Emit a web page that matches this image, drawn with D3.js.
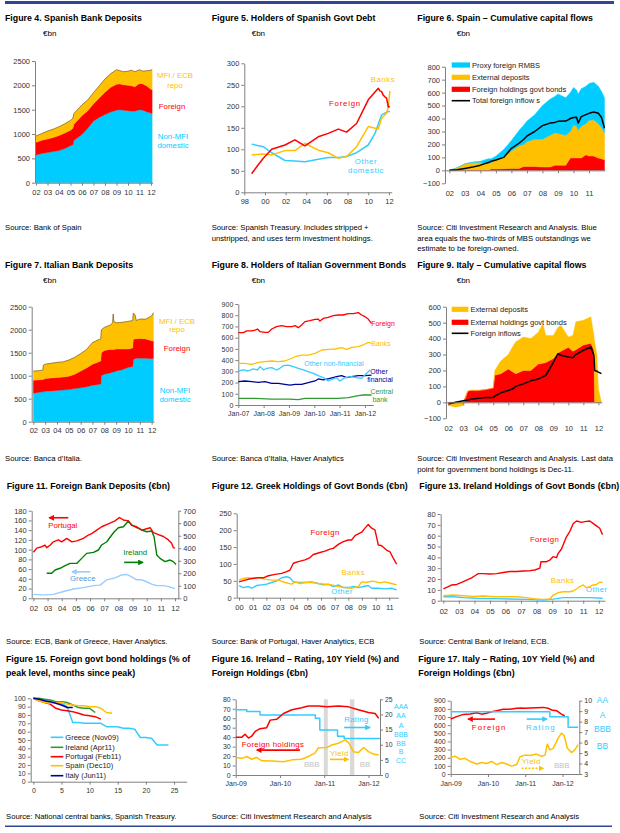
<!DOCTYPE html>
<html>
<head>
<meta charset="utf-8">
<title>Euro periphery: deposits, bond holders and capital flows</title>
<script src="https://cdn.jsdelivr.net/npm/d3@7"></script>
<style>
  body { margin: 0; background: #fff; }
  svg text { font-family: Arial, "Liberation Sans", Helvetica, sans-serif; }
</style>
</head>
<body>
<svg id="chart" width="620" height="833"></svg>
<script>

// ---------- tick labels
var yr0212 = ["02", "03", "04", "05", "06", "07", "08", "09", "10", "11", "12"];
var yr0211 = ["02", "03", "04", "05", "06", "07", "08", "09", "10", "11"];
var yr9812 = ["98", "00", "02", "04", "06", "08", "10", "12"];
var yr0011 = ["00", "01", "02", "03", "04", "05", "06", "07", "08", "09", "10", "11"];
var jan0712 = ["Jan-07", "Jan-08", "Jan-09", "Jan-10", "Jan-11", "Jan-12"];
var jan0912 = ["Jan-09", "Jan-10", "Jan-11", "Jan-12"];
var monthTicks = ["0", "5", "10", "15", "20", "25"];

// ---------- Figure 4. Spanish bank deposits (EUR bn, stacked)
var esDepYears    = [2002, 2002.5, 2003, 2003.5, 2004, 2004.5, 2005, 2005.2, 2005.3, 2006, 2006.5, 2007, 2007.5, 2008, 2008.5, 2009, 2009.3, 2009.6, 2010, 2010.3, 2010.6, 2011, 2011.3, 2011.6, 2012, 2012.1];
var esDepDomestic = [570, 600, 620, 640, 660, 700, 760, 780, 870, 990, 1120, 1270, 1340, 1400, 1450, 1490, 1500, 1490, 1480, 1470, 1470, 1500, 1490, 1460, 1430, 1420];
var esDepForeign  = [260, 270, 280, 290, 310, 320, 320, 340, 330, 390, 360, 350, 400, 460, 510, 530, 530, 520, 520, 520, 500, 540, 540, 530, 490, 490];
var esDepRepo     = [130, 140, 160, 170, 180, 190, 200, 200, 220, 220, 220, 230, 250, 270, 280, 300, 270, 270, 290, 320, 310, 280, 260, 310, 390, 420];

// ---------- Figure 5. Holders of Spanish govt debt
var esForeignYrs = [1998.71, 1999.35, 1999.84, 2000.65, 2001.94, 2002.9, 2003.87, 2005.16, 2006.13, 2007.1, 2007.9, 2008.87, 2010.0, 2010.97, 2011.13, 2011.29, 2011.45, 2011.61, 2011.77, 2011.94, 2012.1];
var esForeign    = [43, 64, 79, 100, 110, 122, 108, 129, 137, 147, 140, 160, 215, 242, 236, 234, 226, 222, 219, 199, 199];
var esBanksYrs   = [1998.71, 1999.84, 2000.65, 2001.94, 2002.9, 2003.87, 2005.16, 2006.13, 2007.1, 2007.9, 2008.87, 2010.0, 2010.97, 2011.29, 2011.61, 2011.77, 2011.94, 2012.1];
var esBanks      = [87, 89, 87, 97, 97, 114, 98, 92, 79, 83, 106, 153, 147, 172, 180, 184, 199, 236];
var esOtherYrs   = [1998.71, 1999.84, 2000.65, 2001.94, 2002.9, 2003.87, 2005.16, 2006.13, 2007.1, 2007.9, 2008.87, 2010.0, 2010.65, 2011.29, 2011.61, 2011.94, 2012.1];
var esOther      = [112, 106, 92, 74, 73, 71, 77, 81, 81, 83, 92, 110, 137, 180, 184, 188, 188];

// ---------- Figure 6. Spain cumulative capital flows
var esFlowYears    = [2002, 2002.5, 2003, 2003.5, 2004, 2004.5, 2004.7, 2005, 2005.5, 2006, 2006.5, 2006.8, 2007, 2007.5, 2008, 2008.5, 2008.8, 2009, 2009.5, 2009.8, 2010, 2010.2, 2010.3, 2010.5, 2010.8, 2011, 2011.3, 2011.6, 2011.8, 2012];
var esFlowBonds    = [0, 0, 0, 0, 0, 0, 10, 10, 12, 15, 15, 30, 30, 30, 25, 25, 40, 40, 40, 95, 95, 95, 95, 95, 120, 110, 110, 95, 90, 80];
var esFlowDeposits = [0, 20, 50, 60, 60, 50, 50, 70, 88, 135, 175, 170, 190, 210, 215, 245, 250, 245, 230, 205, 255, 245, 215, 245, 240, 275, 280, 265, 240, 210];
var esFlowRmbs     = [0, 0, 0, 5, 10, 40, 30, 30, 60, 80, 120, 150, 160, 190, 260, 280, 280, 305, 290, 300, 290, 280, 280, 290, 290, 285, 290, 290, 280, 270];
var esFlowTotal    = [0, 5, 15, 25, 40, 60, 70, 80, 100, 170, 210, 240, 265, 300, 345, 365, 370, 378, 380, 400, 408, 410, 365, 415, 430, 440, 450, 440, 410, 325];

// ---------- Figure 7. Italian bank deposits (stacked)
var itDepYears    = [2002, 2002.5, 2002.8, 2002.85, 2003, 2003.5, 2004, 2004.5, 2005, 2005.5, 2006, 2006.5, 2007, 2007.5, 2007.7, 2007.75, 2008, 2008.5, 2008.7, 2008.75, 2008.8, 2009, 2009.5, 2010, 2010.4, 2010.45, 2010.6, 2010.7, 2011, 2011.5, 2012, 2012.15];
var itDepDomestic = [620, 640, 650, 650, 660, 670, 680, 690, 700, 720, 740, 760, 790, 810, 820, 1000, 1030, 1060, 1080, 1080, 1080, 1100, 1130, 1180, 1200, 1350, 1370, 1380, 1380, 1380, 1370, 1380];
var itDepForeign  = [280, 270, 270, 270, 280, 280, 280, 280, 290, 310, 360, 410, 460, 490, 500, 500, 520, 510, 490, 490, 490, 480, 450, 400, 400, 440, 430, 420, 430, 420, 390, 370];
var itDepRepo     = [200, 200, 200, 310, 310, 320, 330, 330, 350, 370, 380, 400, 470, 480, 480, 500, 500, 530, 580, 770, 610, 570, 580, 600, 600, 570, 520, 400, 420, 430, 540, 620];

// ---------- Figure 8. Holders of Italian government bonds
var itForeignYrs = [2007.0, 2007.2, 2007.33, 2007.53, 2007.66, 2007.76, 2007.86, 2008.05, 2008.18, 2008.32, 2008.51, 2008.71, 2008.91, 2009.11, 2009.24, 2009.37, 2009.5, 2009.63, 2009.83, 2010.03, 2010.16, 2010.22, 2010.36, 2010.55, 2010.75, 2010.95, 2011.14, 2011.34, 2011.54, 2011.74, 2011.87, 2012.0, 2012.13, 2012.26];
var itForeign    = [645, 645, 660, 660, 668, 677, 653, 647, 647, 677, 698, 707, 698, 698, 707, 689, 713, 743, 751, 763, 766, 748, 772, 781, 796, 802, 802, 814, 814, 823, 802, 787, 766, 728];
var itBanksYrs   = [2007.0, 2007.26, 2007.53, 2007.79, 2008.05, 2008.32, 2008.58, 2008.84, 2009.04, 2009.24, 2009.5, 2009.76, 2010.03, 2010.29, 2010.55, 2010.82, 2011.08, 2011.28, 2011.47, 2011.74, 2011.93, 2012.13, 2012.26];
var itBanks      = [371, 371, 362, 380, 386, 392, 386, 392, 410, 430, 445, 445, 460, 490, 496, 499, 511, 496, 514, 520, 535, 558, 550];
var itNonFinYrs  = [2007.0, 2007.2, 2007.39, 2007.59, 2007.76, 2007.86, 2008.0, 2008.12, 2008.32, 2008.51, 2008.64, 2008.78, 2008.97, 2009.17, 2009.37, 2009.57, 2009.76, 2009.96, 2010.16, 2010.36, 2010.55, 2010.75, 2010.88, 2011.01, 2011.21, 2011.47, 2011.66, 2011.86, 2012.0, 2012.2];
var itNonFin     = [303, 312, 303, 321, 312, 342, 312, 327, 333, 312, 327, 350, 356, 342, 327, 312, 297, 282, 261, 244, 214, 232, 244, 214, 244, 252, 244, 238, 267, 312];
var itOthFinYrs  = [2007.0, 2007.26, 2007.53, 2007.79, 2008.05, 2008.32, 2008.58, 2008.84, 2009.04, 2009.24, 2009.5, 2009.76, 2010.03, 2010.16, 2010.36, 2010.62, 2010.88, 2011.08, 2011.28, 2011.47, 2011.74, 2012.0, 2012.26];
var itOthFin     = [208, 214, 208, 202, 208, 193, 193, 184, 178, 184, 184, 199, 214, 232, 223, 238, 252, 261, 244, 252, 261, 261, 267];
var itCbYrs      = [2007.0, 2007.66, 2008.32, 2009.0, 2009.37, 2009.63, 2010.29, 2010.95, 2011.34, 2011.54, 2011.74, 2011.93, 2012.26];
var itCb         = [59, 59, 53, 53, 48, 59, 59, 59, 65, 74, 83, 89, 89];

// ---------- Figure 9. Italy cumulative capital flows
var itFlowYears    = [2002, 2002.5, 2003, 2003.3, 2003.5, 2004, 2004.5, 2005, 2005.1, 2005.5, 2006, 2006.3, 2006.5, 2007, 2007.5, 2008, 2008.3, 2008.5, 2009, 2009.3, 2009.5, 2010, 2010.3, 2010.5, 2011, 2011.5, 2011.7, 2011.75, 2011.9, 2012, 2012.2];
var itFlowBonds    = [-5, 0, 0, 70, 75, 75, 80, 90, 170, 180, 210, 190, 180, 200, 200, 240, 245, 250, 275, 310, 320, 345, 320, 330, 360, 370, 330, 0, 0, 0, 0];
var itFlowDeposits = [-15, -30, -20, 0, 0, 0, 0, 0, 30, 80, 90, 160, 200, 210, 200, 200, 249, 170, 145, 160, 164, 65, 100, 175, 155, 167, 90, 380, 300, 84, 0];
var itFlowTotal    = [-10, 0, 10, 15, 20, 25, 30, 30, 40, 60, 74, 85, 100, 116, 135, 147, 160, 170, 250, 305, 295, 284, 280, 300, 326, 347, 295, 200, 195, 190, 180];

// ---------- Figure 11. Foreign bank deposits
var ptDepYrs = [2002.0, 2002.24, 2002.59, 2002.82, 2002.94, 2003.18, 2003.41, 2003.76, 2004.0, 2004.35, 2004.71, 2005.06, 2005.53, 2005.88, 2006.12, 2006.47, 2006.82, 2007.29, 2007.76, 2008.07, 2008.35, 2008.71, 2008.94, 2009.29, 2009.65, 2010.0, 2010.24, 2010.47, 2010.82, 2011.18, 2011.53, 2011.76, 2011.88, 2012.0];
var ptDep    = [94.5, 103, 106, 109, 104, 109, 116, 120, 116, 123, 116, 118, 123, 130, 133, 140, 147, 153, 159, 166, 161, 159, 150, 147, 140, 143, 145, 135, 131, 127, 120, 113, 104, 103];
var ieDepYrs = [2002.94, 2003.29, 2003.53, 2003.88, 2004.24, 2004.59, 2005.06, 2005.41, 2005.76, 2006.24, 2006.59, 2006.82, 2007.18, 2007.53, 2007.76, 2008.0, 2008.35, 2008.71, 2008.94, 2009.29, 2009.65, 2010.0, 2010.35, 2010.52, 2010.71, 2010.94, 2011.29, 2011.65, 2011.88, 2012.07];
var ieDep    = [200, 200, 226, 240, 261, 279, 279, 319, 359, 367, 386, 426, 452, 506, 538, 564, 572, 617, 586, 564, 546, 532, 538, 492, 346, 319, 293, 306, 293, 271];
var grDepYrs = [2002.0, 2002.71, 2003.41, 2004.12, 2004.82, 2005.53, 2006.24, 2006.71, 2007.18, 2007.76, 2008.24, 2008.59, 2008.94, 2009.29, 2009.65, 2010.0, 2010.35, 2010.71, 2011.18, 2011.53, 2012.0];
var grDep    = [8, 7, 8, 14, 19, 22, 26, 27, 38, 42, 48, 49, 44, 38, 38, 34, 29, 26, 26, 24, 20];

// ---------- Figure 12. Greek holdings of govt bonds
var grForeignYrs = [2000.0, 2000.44, 2000.93, 2001.41, 2001.78, 2002.15, 2002.63, 2003.12, 2003.49, 2003.73, 2003.98, 2004.34, 2004.83, 2005.2, 2005.44, 2005.93, 2006.29, 2006.66, 2006.9, 2007.27, 2007.63, 2008.0, 2008.24, 2008.49, 2008.98, 2009.22, 2009.46, 2009.71, 2009.95, 2010.2, 2010.44, 2010.8, 2011.05, 2011.29, 2011.54];
var grForeign    = [47, 52, 57, 59, 59, 65, 69, 72, 77, 82, 102, 107, 112, 119, 128, 134, 138, 144, 146, 158, 166, 171, 171, 184, 194, 206, 217, 206, 201, 156, 154, 141, 136, 117, 99];
var grBanksYrs   = [2000.0, 2000.32, 2000.68, 2001.05, 2001.41, 2001.9, 2002.39, 2002.88, 2003.37, 2003.85, 2004.1, 2004.46, 2004.83, 2005.32, 2005.8, 2006.29, 2006.78, 2007.27, 2007.76, 2008.24, 2008.73, 2008.98, 2009.34, 2009.71, 2010.07, 2010.32, 2010.68, 2011.17, 2011.54];
var grBanks      = [52, 57, 59, 57, 60, 55, 52, 52, 45, 40, 47, 42, 45, 45, 42, 40, 38, 33, 30, 28, 33, 47, 45, 49, 47, 44, 47, 42, 38];
var grOtherYrs   = [2000.0, 2000.32, 2000.68, 2000.93, 2001.29, 2001.66, 2002.02, 2002.39, 2002.76, 2003.12, 2003.49, 2003.73, 2003.98, 2004.34, 2004.83, 2005.32, 2005.8, 2006.17, 2006.54, 2006.9, 2007.27, 2007.63, 2008.0, 2008.37, 2008.73, 2009.1, 2009.46, 2009.71, 2010.2, 2010.68, 2011.17, 2011.54];
var grOther      = [36, 30, 33, 28, 36, 38, 40, 45, 49, 59, 62, 59, 47, 45, 45, 47, 42, 38, 40, 33, 38, 30, 30, 33, 30, 33, 36, 28, 28, 26, 28, 23];

// ---------- Figure 13. Ireland holdings of govt bonds
var ieForeignYrs = [2002.0, 2002.32, 2002.54, 2002.86, 2003.18, 2003.5, 2003.82, 2004.03, 2004.25, 2004.57, 2005.0, 2005.43, 2005.85, 2006.28, 2006.71, 2007.14, 2007.57, 2007.89, 2008.21, 2008.28, 2008.64, 2008.85, 2009.06, 2009.28, 2009.39, 2009.6, 2009.75, 2009.92, 2010.14, 2010.35, 2010.57, 2010.89, 2011.1, 2011.42, 2011.63, 2011.85, 2012.06, 2012.24];
var ieForeign    = [11, 13, 14.5, 15, 17, 19, 21, 23, 25, 25, 24.6, 25, 26, 27, 27, 27.4, 27.7, 28.3, 30, 36, 36, 37.5, 40.6, 39.7, 43.7, 47.7, 53, 59, 64, 71, 73.5, 72.3, 73, 73.5, 71.4, 69, 66.8, 61];
var ieBanksYrs   = [2002.0, 2002.64, 2003.28, 2003.93, 2004.57, 2005.21, 2005.85, 2006.71, 2007.35, 2007.99, 2008.42, 2008.85, 2009.07, 2009.39, 2009.71, 2010.14, 2010.35, 2010.57, 2010.78, 2011.0, 2011.21, 2011.42, 2011.64, 2011.85, 2012.06, 2012.24];
var ieBanks      = [4.6, 5.2, 4.6, 4, 4.3, 3.7, 3.7, 3.7, 2.8, 1.5, 1.2, 1.5, 5.2, 7.4, 8.3, 8.3, 9, 10.8, 13, 14.5, 12, 13, 14.5, 15, 17, 17];
var ieOtherYrs   = [2002.0, 2002.64, 2003.28, 2004.14, 2005.21, 2006.28, 2007.35, 2008.42, 2009.07, 2009.71, 2010.57, 2011.42, 2012.24];
var ieOther      = [3.7, 3.7, 2.8, 2.2, 1.9, 1.5, 1.2, 0.6, 1.5, 2.8, 2.8, 2.8, 2.2];

// ---------- Figure 15. Foreign holdings, % of peak, by months since peak
var peakGreece   = [100, 99, 97, 95, 95, 94, 90, 71, 71, 70, 70, 70, 70, 66, 66, 66, 64, 64, 63, 53, 53, 52, 44, 44, 44];
var peakIreland  = [100, 100, 99, 98, 96, 96, 95, 92, 89, 88, 88, 83];
var peakPortugal = [100, 97, 95, 93, 88, 86, 85, 84, 82, 80, 79, 78, 75];
var peakSpain    = [100, 97, 95, 94, 95, 95, 93, 92, 91, 91, 90, 90, 88, 83, 82];
var peakItaly    = [100, 99, 97, 96, 94, 92, 89, 89];
var peakNames    = ["Greece (Nov09)", "Ireland (Apr11)", "Portugal (Feb11)", "Spain (Dec10)", "Italy (Jun11)"];

// ---------- Figure 16. Ireland rating, 10y yield, foreign holdings
var ieFhYrs     = [2009.0, 2009.14, 2009.21, 2009.29, 2009.36, 2009.44, 2009.55, 2009.70, 2009.78, 2009.93, 2010.08, 2010.27, 2010.49, 2010.64, 2010.87, 2011.06, 2011.32, 2011.55, 2011.77, 2012.0, 2012.15, 2012.23];
var ieFh        = [40, 40, 43, 39, 41, 46, 49, 50, 58, 59, 65, 69, 71, 73, 73, 72, 73, 72, 69, 66, 65, 60];
var ieYieldYrs  = [2009.0, 2009.14, 2009.25, 2009.36, 2009.47, 2009.59, 2009.82, 2010.08, 2010.27, 2010.49, 2010.64, 2010.79, 2010.87, 2011.06, 2011.17, 2011.32, 2011.47, 2011.55, 2011.66, 2011.77, 2011.89, 2012.0, 2012.11, 2012.23];
var ieYield     = [5.8, 5.5, 6.1, 5.2, 5.8, 4.7, 4.6, 4.4, 5.0, 5.2, 6.1, 7.2, 9.0, 9.1, 9.9, 10.5, 11.6, 10.7, 7.7, 7.4, 9.1, 7.7, 6.9, 6.6];
var ieRatingYrs = [2009.0, 2009.25, 2009.55, 2010.8, 2010.9, 2011.3, 2011.45, 2012.26];
var ieRating    = [69, 67, 63.5, 60, 47.5, 41, 38.5, 38.5];
var ieRatingNames = ["AAA", "AA", "A", "BBB", "BB", "B", "CC"];
var ieDowngrades  = [[2010.99, 2011.08], [2011.58, 2011.68]];

// ---------- Figure 17. Italy rating, 10y yield, foreign holdings
var itFhYrs     = [2009.0, 2009.16, 2009.34, 2009.52, 2009.70, 2009.83, 2009.96, 2010.10, 2010.23, 2010.41, 2010.59, 2010.77, 2010.90, 2010.99, 2011.13, 2011.30, 2011.48, 2011.62, 2011.71, 2011.84, 2011.97, 2012.06];
var itFh        = [675, 704, 732, 736, 753, 735, 745, 765, 777, 794, 794, 806, 810, 806, 810, 814, 818, 806, 786, 777, 736, 712];
var itYieldYrs  = [2009.0, 2009.12, 2009.25, 2009.38, 2009.52, 2009.70, 2009.83, 2009.96, 2010.10, 2010.23, 2010.37, 2010.50, 2010.63, 2010.77, 2010.86, 2010.99, 2011.17, 2011.30, 2011.44, 2011.53, 2011.59, 2011.66, 2011.75, 2011.88, 2011.97, 2012.04, 2012.13, 2012.24, 2012.33, 2012.42];
var itYield     = [4.6, 4.7, 4.4, 4.5, 4.2, 3.95, 4.1, 4.0, 4.2, 3.9, 4.1, 3.95, 3.75, 3.9, 4.65, 4.8, 4.8, 4.9, 4.7, 4.8, 5.85, 5.3, 5.45, 6.4, 6.9, 6.7, 5.45, 5.05, 5.3, 5.8];
var itRatingYrs = [2009.0, 2011.66, 2012.15, 2012.42];
var itRating    = [765, 704, 573, 573];
var itRatingNames = ["AA", "A", "BBB", "BB"];

// ---------- colours
var YEL = "#FFC000", RED = "#FF0000", CYAN = "#00CCFF", LBLUE = "#33CCFF", NAVY = "#000099",
    GREEN = "#008000", CBGREEN = "#339933", PALE = "#99CCFF", SHADE = "#D9D9D9", GREYTXT = "#BFBFBF";

var svg = d3.select("#chart");
var defs = svg.append("defs");

svg.append("rect").attr("x", 5).attr("y", 1).attr("width", 609).attr("height", 3).attr("fill", "#2F4696");
svg.append("rect").attr("x", 5).attr("y", 825.5).attr("width", 607).attr("height", 1.5).attr("fill", "#2F4696");

function text(x, y, s, o) {
  o = o || {};
  return svg.append("text").attr("x", x).attr("y", y).text(s)
    .attr("text-anchor", o.anchor || "start")
    .style("font-size", (o.size || 7.8) + "px")
    .style("font-weight", o.bold ? "bold" : "normal")
    .style("letter-spacing", o.ls ? o.ls + "px" : null)
    .style("fill", o.color || "#000");
}
function title(x, y, s) { return text(x, y, s, {size: 8.8, bold: true}); }
function source(x, y, s) { return text(x, y, s, {size: 7.7}); }

function styleAxis(g, size) {
  g.attr("font-family", null).attr("font-size", null);
  g.select(".domain").attr("stroke", "#808080");
  g.selectAll(".tick line").attr("stroke", "#808080");
  g.selectAll(".tick text").attr("fill", "#333").style("font-size", (size || 7.5) + "px");
}
function yAxis(sy, x, vals, side, size) {
  var gen = (side === "right" ? d3.axisRight(sy) : d3.axisLeft(sy))
    .tickValues(vals).tickFormat(d3.format("d"))
    .tickSize(3).tickSizeOuter(0).tickPadding(2);
  var g = svg.append("g").attr("transform", "translate(" + x + ",0)").call(gen);
  styleAxis(g, size);
}
function xAxis(sx, y, vals, labels, pad, size) {
  var gen = d3.axisBottom(sx).tickValues(vals)
    .tickFormat(function (d, i) { return labels[i]; })
    .tickSize(3).tickSizeOuter(0).tickPadding(pad);
  var g = svg.append("g").attr("transform", "translate(0," + y + ")").call(gen);
  styleAxis(g, size);
}
function line(xs, ys, sx, sy, color, w, curve, dash) {
  svg.append("path").datum(d3.zip(xs, ys))
    .attr("fill", "none").attr("stroke", color).attr("stroke-width", w || 1.4)
    .attr("stroke-linejoin", "round").attr("stroke-dasharray", dash || null)
    .attr("d", d3.line().x(function (d) { return sx(d[0]); }).y(function (d) { return sy(d[1]); })
      .curve(curve || d3.curveLinear));
}
function stackAreas(xs, parts, colors, sx, sy, edge) {
  var rows = xs.map(function (x, i) { return parts.map(function (p) { return p[i]; }); });
  var series = d3.stack().keys(d3.range(parts.length))
    .value(function (r, k) { return r[k]; })(rows);
  var area = d3.area()
    .x(function (d, i) { return sx(xs[i]); })
    .y0(function (d) { return sy(d[0]); })
    .y1(function (d) { return sy(d[1]); });
  series.forEach(function (s, k) {
    svg.append("path").datum(s).attr("fill", colors[k]).attr("stroke", colors[k])
      .attr("stroke-width", 0.4).attr("d", area);
  });
  if (edge) {
    svg.append("path").datum(series[series.length - 1]).attr("fill", "none")
      .attr("stroke", edge).attr("stroke-width", 0.6)
      .attr("d", d3.line().x(function (d, i) { return sx(xs[i]); }).y(function (d) { return sy(d[1]); }));
  }
}
function arrow(sx, sy, x1, x2, y, color, dash) {
  var id = "ah" + color.replace("#", "");
  if (defs.select("#" + id).empty()) {
    defs.append("marker").attr("id", id).attr("viewBox", "0 0 10 10")
      .attr("refX", 8).attr("refY", 5).attr("markerWidth", 3.6).attr("markerHeight", 3.6)
      .attr("orient", "auto")
      .append("path").attr("d", "M0,0L10,5L0,10z").attr("fill", color);
  }
  svg.append("line").attr("x1", sx(x1)).attr("x2", sx(x2)).attr("y1", sy(y)).attr("y2", sy(y))
    .attr("stroke", color).attr("stroke-width", 1.6).attr("stroke-dasharray", dash || null)
    .attr("marker-end", "url(#" + id + ")");
}
function legendBox(x, y, w, color, label) {
  svg.append("rect").attr("x", x).attr("y", y - 2.6).attr("width", w).attr("height", 5.2).attr("fill", color);
  text(x + w + 2, y + 2.6, label, {size: 7.5, color: "#222"});
}
function legendLine(x, y, w, color, label, lw) {
  svg.append("line").attr("x1", x).attr("x2", x + w).attr("y1", y).attr("y2", y)
    .attr("stroke", color).attr("stroke-width", lw || 1.6);
  text(x + w + 2, y + 2.6, label, {size: 7.5, color: "#222"});
}

// ---------------- Row 1
function fig4() {
  var sx = d3.scaleLinear().domain([2001.91, 2012.15]).range([35, 152.7]);
  var sy = d3.scaleLinear().domain([0, 2500]).range([182.7, 61]);
  stackAreas(esDepYears, [esDepDomestic, esDepForeign, esDepRepo], [CYAN, RED, YEL], sx, sy, "#5a5030");
  yAxis(sy, 35, d3.range(0, 2501, 500));
  xAxis(sx, 182.7, d3.range(2002, 2013), yr0212, 4);
  title(5, 21.3, "Figure 4. Spanish Bank Deposits");
  text(43, 36, "€bn", {size: 8});
  text(175, 78, "MFI / ECB", {color: YEL, anchor: "middle"});
  text(175, 87.5, "repo", {color: YEL, anchor: "middle"});
  text(172, 108.5, "Foreign", {color: RED, anchor: "middle"});
  text(173, 139, "Non-MFI", {color: CYAN, anchor: "middle"});
  text(173, 148, "domestic", {color: CYAN, anchor: "middle"});
  source(5, 230, "Source: Bank of Spain");
}

function fig5() {
  var sx = d3.scaleLinear().domain([1998, 2012.27]).range([244.3, 391.7]);
  var sy = d3.scaleLinear().domain([0, 300]).range([192.3, 63.3]);
  yAxis(sy, 244.3, d3.range(0, 301, 50));
  xAxis(sx, 192.3, d3.range(1998, 2013, 2), yr9812, 3);
  line(esOtherYrs, esOther, sx, sy, LBLUE, 1.5);
  line(esBanksYrs, esBanks, sx, sy, YEL, 1.5);
  line(esForeignYrs, esForeign, sx, sy, RED, 1.5);
  title(211.7, 21.3, "Figure 5. Holders of Spanish Govt Debt");
  text(251.7, 36, "€bn", {size: 8});
  text(383, 82, "Banks", {color: YEL, anchor: "middle", ls: 0.6});
  text(345, 106, "Foreign", {color: RED, anchor: "middle", ls: 0.8});
  text(366, 164, "Other", {color: LBLUE, anchor: "middle", ls: 0.6});
  text(366, 173, "domestic", {color: LBLUE, anchor: "middle", ls: 0.6});
  source(211.7, 230, "Source: Spanish Treasury. Includes stripped +");
  source(211.7, 240.5, "unstripped, and uses term investment holdings.");
}

function fig6() {
  var sx = d3.scaleLinear().domain([2001.72, 2012.03]).range([445, 605]);
  var sy = d3.scaleLinear().domain([-100, 800]).range([183.3, 66.7]);
  stackAreas(esFlowYears, [esFlowBonds, esFlowDeposits, esFlowRmbs], [RED, YEL, CYAN], sx, sy);
  line(esFlowYears, esFlowTotal, sx, sy, "#000", 1.5);
  yAxis(sy, 445, d3.range(-100, 801, 100));
  xAxis(sx, sy(0), d3.range(2002, 2012), yr0211, sy(-100) - sy(0) + 4.5);
  legendBox(451.7, 65, 18.3, CYAN, "Proxy foreign RMBS");
  legendBox(451.7, 77.3, 18.3, YEL, "External deposits");
  legendBox(451.7, 89.3, 18.3, RED, "Foreign holdings govt bonds");
  legendLine(451.7, 100.7, 18.3, "#000", "Total foreign inflow s");
  title(417.3, 21.3, "Figure 6. Spain – Cumulative capital flows");
  text(456.7, 36, "€bn", {size: 8});
  source(417.3, 230, "Source: Citi Investment Research and Analysis. Blue");
  source(417.3, 240.5, "area equals the two-thirds of MBS outstandings we");
  source(417.3, 251, "estimate to be foreign-owned.");
}

// ---------------- Row 2
function fig7() {
  var sx = d3.scaleLinear().domain([2001.86, 2012.2]).range([31.7, 154]);
  var sy = d3.scaleLinear().domain([0, 2500]).range([421.7, 306.7]);
  stackAreas(itDepYears, [itDepDomestic, itDepForeign, itDepRepo], [CYAN, RED, YEL], sx, sy, "#5a5030");
  yAxis(sy, 31.7, d3.range(0, 2501, 500));
  xAxis(sx, 421.7, d3.range(2002, 2013), yr0212, 2.5);
  title(5, 268.3, "Figure 7. Italian Bank Deposits");
  text(43, 283, "€bn", {size: 8});
  text(177, 323.5, "MFI / ECB", {color: YEL, anchor: "middle"});
  text(177, 332, "repo", {color: YEL, anchor: "middle"});
  text(177, 351, "Foreign", {color: RED, anchor: "middle"});
  text(175, 392.5, "Non-MFI", {color: CYAN, anchor: "middle"});
  text(175, 401.5, "domestic", {color: CYAN, anchor: "middle"});
  source(5, 461, "Source: Banca d’Italia.");
}

function fig8() {
  var sx = d3.scaleLinear().domain([2007, 2012.33]).range([238.3, 373.3]);
  var sy = d3.scaleLinear().domain([0, 900]).range([405, 304]);
  yAxis(sy, 238.3, d3.range(0, 901, 100), "left", 7);
  xAxis(sx, 405, d3.range(2007, 2013), jan0712, 2.7, 7);
  line(itCbYrs, itCb, sx, sy, CBGREEN, 1.3);
  line(itOthFinYrs, itOthFin, sx, sy, NAVY, 1.3);
  line(itNonFinYrs, itNonFin, sx, sy, LBLUE, 1.3);
  line(itBanksYrs, itBanks, sx, sy, YEL, 1.3);
  line(itForeignYrs, itForeign, sx, sy, RED, 1.3);
  title(211.7, 268.3, "Figure 8. Holders of Italian Government Bonds");
  text(251.7, 283, "€bn", {size: 8});
  text(383, 326, "Foreign", {color: RED, anchor: "middle", size: 7});
  text(381, 346, "Banks", {color: YEL, anchor: "middle", size: 7});
  text(304.3, 366, "Other non-financial", {color: LBLUE, size: 7});
  text(379, 373.5, "Other", {color: NAVY, anchor: "middle", size: 7});
  text(380, 381.5, "financial", {color: NAVY, anchor: "middle", size: 7});
  text(381.7, 393.5, "Central", {color: CBGREEN, anchor: "middle", size: 7});
  text(380, 402, "bank", {color: CBGREEN, anchor: "middle", size: 7});
  source(211.7, 461, "Source: Banca d’Italia, Haver Analytics");
}

function fig9() {
  var sx = d3.scaleLinear().domain([2001.85, 2012.22]).range([446, 601.7]);
  var sy = d3.scaleLinear().domain([-100, 600]).range([418.3, 306.7]);
  stackAreas(itFlowYears, [itFlowBonds, itFlowDeposits], [RED, YEL], sx, sy);
  line(itFlowYears, itFlowTotal, sx, sy, "#000", 1.5);
  yAxis(sy, 446, d3.range(-100, 601, 100));
  xAxis(sx, sy(0), d3.range(2002, 2013), yr0212, sy(-100) - sy(0) + 4.5);
  legendBox(451.7, 309.3, 16.7, YEL, "External deposits");
  legendBox(451.7, 322.3, 16.7, RED, "External holdings govt bonds");
  legendLine(451.7, 333.3, 16.7, "#000", "Foreign inflows");
  title(417.3, 268.3, "Figure 9. Italy – Cumulative capital flows");
  text(456.7, 283, "€bn", {size: 8});
  source(417.3, 461, "Source: Citi Investment Research and Analysis. Last data");
  source(417.3, 471.5, "point for government bond holdings is Dec-11.");
}

// ---------------- Row 3
function fig11() {
  var sx = d3.scaleLinear().domain([2001.88, 2012.23]).range([31.7, 178.3]);
  var syL = d3.scaleLinear().domain([0, 180]).range([598.3, 510.7]);
  var syR = d3.scaleLinear().domain([0, 700]).range([598.3, 510.7]);
  yAxis(syL, 31.7, d3.range(0, 181, 20));
  yAxis(syR, 178.3, d3.range(0, 701, 100), "right");
  xAxis(sx, 598.3, d3.range(2002, 2013), yr0212, 4);
  line(grDepYrs, grDep, sx, syL, PALE, 1.4);
  line(ieDepYrs, ieDep, sx, syR, GREEN, 1.4);
  line(ptDepYrs, ptDep, sx, syL, RED, 1.4);
  arrow(sx, syL, 2004.46, 2003.13, 165.5, RED);
  arrow(sx, syR, 2008.41, 2009.72, 287, GREEN);
  arrow(sx, syL, 2006.01, 2004.73, 54.4, PALE);
  text(48.3, 527.7, "Portugal", {color: RED});
  text(123.3, 555, "Ireland", {color: GREEN});
  text(70, 581, "Greece", {color: "#5B9BD5"});
  title(6.7, 489.3, "Figure 11. Foreign Bank Deposits (€bn)");
  source(6, 644, "Source: ECB, Bank of Greece, Haver Analytics.");
}

function fig12() {
  var sx = d3.scaleLinear().domain([1999.83, 2011.66]).range([236.7, 398.3]);
  var sy = d3.scaleLinear().domain([0, 250]).range([597.7, 513.3]);
  yAxis(sy, 236.7, d3.range(0, 251, 50));
  xAxis(sx, 597.7, d3.range(2000, 2012), yr0011, 4);
  line(grOtherYrs, grOther, sx, sy, LBLUE, 1.4);
  line(grBanksYrs, grBanks, sx, sy, YEL, 1.4);
  line(grForeignYrs, grForeign, sx, sy, RED, 1.4);
  text(325, 535, "Foreign", {color: RED, anchor: "middle", ls: 0.4});
  text(353.3, 575, "Banks", {color: YEL, anchor: "middle", ls: 0.4});
  text(342, 594, "Other", {color: LBLUE, anchor: "middle", ls: 0.4});
  title(211.7, 489.3, "Figure 12. Greek Holdings of Govt Bonds (€bn)");
  source(211.7, 644, "Source: Bank of Portugal, Haver Analytics, ECB");
}

function fig13() {
  var sx = d3.scaleLinear().domain([2001.83, 2012.4]).range([440.7, 605]);
  var sy = d3.scaleLinear().domain([0, 80]).range([600.7, 514]);
  yAxis(sy, 440.7, d3.range(0, 81, 10));
  xAxis(sx, 600.7, d3.range(2002, 2013), yr0212, 5);
  line(ieOtherYrs, ieOther, sx, sy, LBLUE, 1.4);
  line(ieBanksYrs, ieBanks, sx, sy, YEL, 1.4);
  line(ieForeignYrs, ieForeign, sx, sy, RED, 1.4);
  text(544.5, 541.7, "Foreign", {color: RED, anchor: "middle", ls: 0.4});
  text(562.5, 583.3, "Banks", {color: YEL, anchor: "middle", ls: 0.4});
  text(596.7, 591.7, "Other", {color: LBLUE, anchor: "middle", ls: 0.4});
  title(419.3, 489.3, "Figure 13. Ireland Holdings of Govt Bonds (€bn)");
  source(419.3, 644, "Source: Central Bank of Ireland, ECB.");
}

// ---------------- Row 4
function fig15() {
  var sx = d3.scaleLinear().domain([-0.47, 27.25]).range([30.7, 186.7]);
  var sy = d3.scaleLinear().domain([0, 100]).range([781.7, 698.3]);
  yAxis(sy, 30.7, d3.range(0, 101, 10), "left", 7);
  xAxis(sx, 781.7, d3.range(0, 26, 5), monthTicks, 3.3, 7);
  var sets = [peakGreece, peakIreland, peakPortugal, peakSpain, peakItaly];
  var cols = [LBLUE, CBGREEN, RED, YEL, NAVY];
  sets.forEach(function (s, k) { line(d3.range(s.length), s, sx, sy, cols[k], 1.5); });
  var rowsY = [737.3, 747.3, 756.7, 765.7, 775.7];
  peakNames.forEach(function (n, k) { legendLine(50.7, rowsY[k], 12.6, cols[k], n, 1.6); });
  title(6, 661.7, "Figure 15. Foreign govt bond holdings (% of");
  title(6, 676, "peak level, months since peak)");
  source(6, 819, "Source: National central banks, Spanish Treasury.");
}

function fig16() {
  var sx = d3.scaleLinear().domain([2009, 2012.26]).range([235.7, 380]);
  var syL = d3.scaleLinear().domain([0, 80]).range([775, 699.3]);
  var syR = d3.scaleLinear().domain([0, 25]).range([775, 699.3]);
  ieDowngrades.forEach(function (b) {
    svg.append("rect").attr("x", sx(b[0])).attr("width", sx(b[1]) - sx(b[0]))
      .attr("y", syL(80)).attr("height", syL(0) - syL(80)).attr("fill", SHADE);
  });
  yAxis(syL, 235.7, d3.range(0, 81, 10), "left", 7);
  yAxis(syR, 380, d3.range(0, 26, 5), "right", 6.8);
  xAxis(sx, 775, d3.range(2009, 2013), jan0912, 3.4, 7);
  line(ieRatingYrs, ieRating, sx, syL, LBLUE, 1.5, d3.curveStepAfter);
  line(ieFhYrs, ieFh, sx, syL, RED, 1.5);
  line(ieYieldYrs, ieYield, sx, syR, YEL, 1.5);
  arrow(sx, syL, 2010.45, 2009.48, 26.3, RED);
  arrow(sx, syL, 2011.45, 2012.03, 50.2, LBLUE);
  arrow(sx, syL, 2011.13, 2011.54, 16.5, YEL);
  text(241.7, 746.5, "Foreign holdings", {color: RED, ls: 0.3});
  text(344.3, 722, "Rating", {color: LBLUE, ls: 0.3});
  text(330, 756, "Yield", {color: YEL, ls: 0.3});
  text(311.7, 767.3, "BBB", {color: GREYTXT, anchor: "middle"});
  text(365, 767.3, "BB", {color: GREYTXT, anchor: "middle"});
  var ry = [709.3, 717.6, 728.3, 737.3, 746, 754.3, 763.3];
  ieRatingNames.forEach(function (n, k) { text(401, ry[k], n, {color: LBLUE, anchor: "middle", size: 7}); });
  title(211.7, 661.7, "Figure 16. Ireland – Rating, 10Y Yield (%) and");
  title(211.7, 676, "Foreign Holdings (€bn)");
  source(211.7, 819, "Source: Citi Investment Research and Analysis");
}

function fig17() {
  var sx = d3.scaleLinear().domain([2009, 2012.45]).range([450.7, 579.3]);
  var syL = d3.scaleLinear().domain([0, 900]).range([774, 700.7]);
  var syR = d3.scaleLinear().domain([3, 10]).range([774, 700.7]);
  yAxis(syL, 450.7, d3.range(0, 901, 100), "left", 7);
  yAxis(syR, 579.3, d3.range(3, 11, 1), "right", 7);
  xAxis(sx, 774, d3.range(2009, 2013), jan0912, 4.4, 7);
  line(itFhYrs, itFh, sx, syL, RED, 1.5);
  line(itRatingYrs, itRating, sx, syL, LBLUE, 1.5, d3.curveStepAfter);
  line(itYieldYrs, itYield, sx, syR, YEL, 1.5);
  arrow(sx, syL, 2010.19, 2009.47, 674, RED);
  arrow(sx, syL, 2011.04, 2011.58, 674, LBLUE);
  arrow(sx, syL, 2010.90, 2011.48, 70, YEL, "2,1.5");
  text(471.7, 730, "Foreign", {color: RED, ls: 1.2});
  text(526, 730, "Rating", {color: LBLUE, ls: 1.2});
  text(521.7, 763.5, "Yield", {color: YEL, ls: 0.4});
  text(561.7, 768.3, "BBB", {color: GREYTXT, anchor: "middle"});
  var ry = [702.5, 717.7, 732, 748.7];
  itRatingNames.forEach(function (n, k) { text(602.5, ry[k], n, {color: LBLUE, anchor: "middle", size: 8.5}); });
  title(418.3, 661.7, "Figure 17. Italy – Rating, 10Y Yield (%) and");
  title(418.3, 676, "Foreign Holdings (€bn)");
  source(419.3, 819, "Source: Citi Investment Research and Analysis");
}

fig4(); fig5(); fig6();
fig7(); fig8(); fig9();
fig11(); fig12(); fig13();
fig15(); fig16(); fig17();

</script>
</body>
</html>
